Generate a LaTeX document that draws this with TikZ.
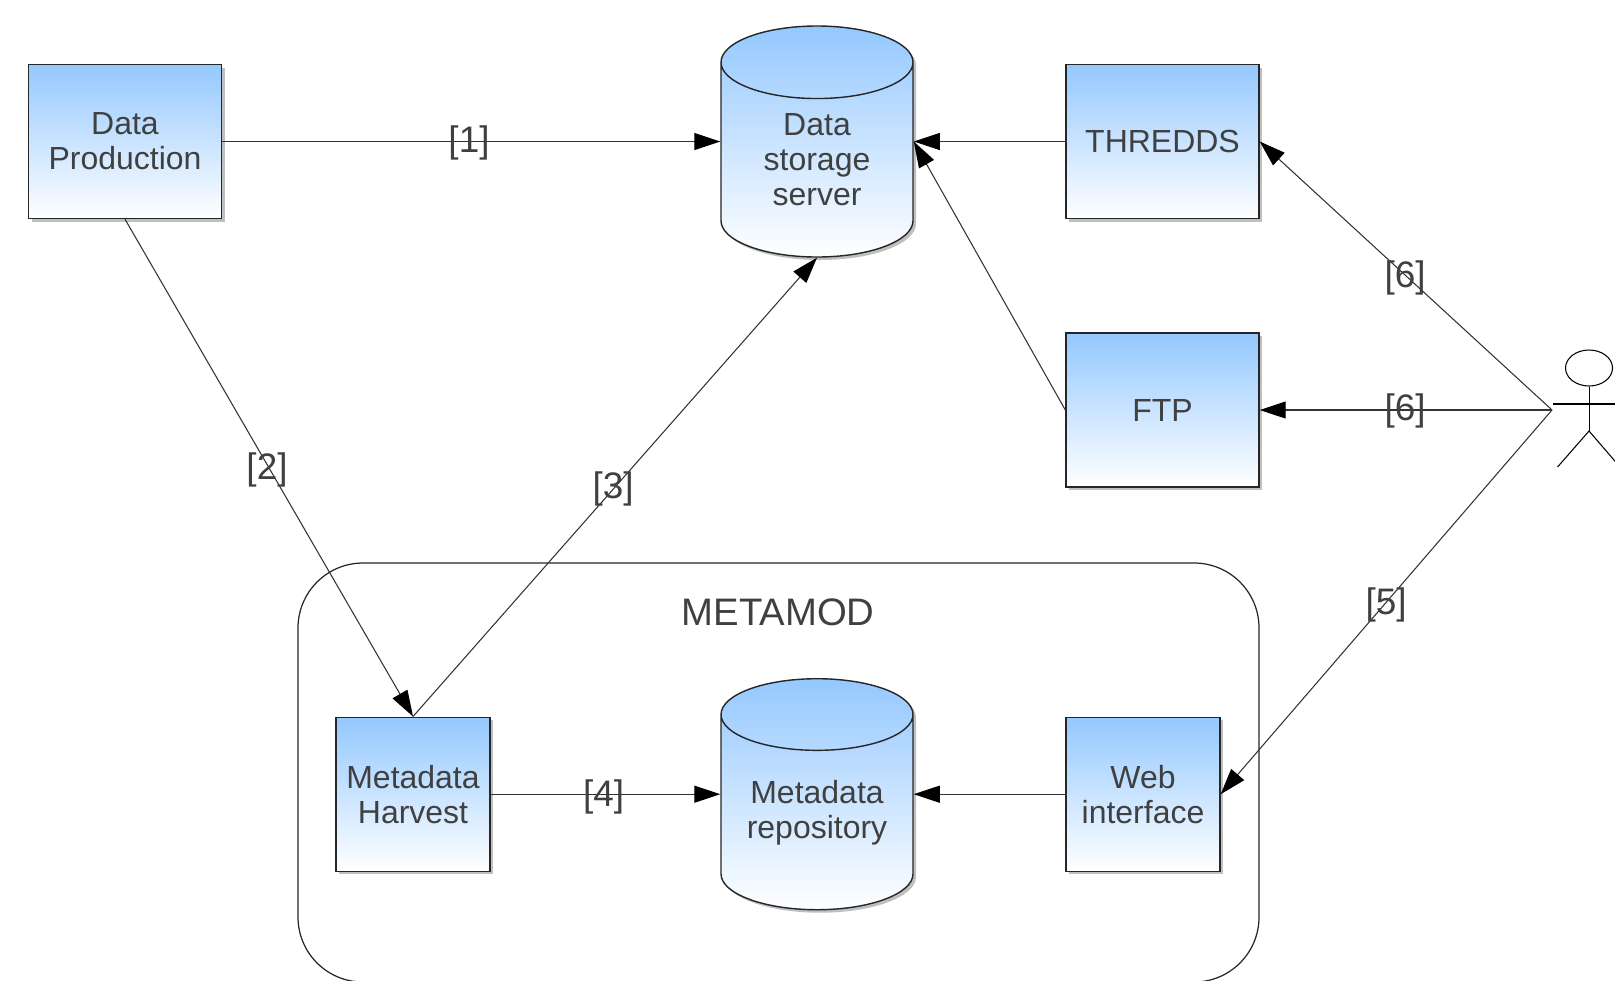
\documentclass[tikz,border=0pt]{standalone}
\usepackage{fontspec}
\setmainfont{Liberation Sans}
\usetikzlibrary{arrows.meta,shadows,shapes.geometric}
\definecolor{boxblue}{HTML}{94C8FF}
\definecolor{textgray}{HTML}{404040}
\tikzset{
  boxshade/.style={draw=black!85, line width=0.4pt, top color=boxblue, bottom color=white,
    general shadow={shadow xshift=0.03cm, shadow yshift=-0.03cm, fill=black!25}},
  bigbox/.style={boxshade, minimum width=1.93cm, minimum height=1.54cm, inner sep=0pt, align=center,
    font=\fontsize{9.1}{10}\selectfont, text=textgray},
  smallbox/.style={bigbox, minimum width=1.54cm},
  datastore/.style={boxshade, cylinder, shape border rotate=90, shape aspect=0.68, anchor=shape center,
    minimum width=1.92cm, minimum height=2.31cm, inner sep=0pt, align=center,
    font=\fontsize{9.1}{10}\selectfont, text=textgray},
  flow/.style={draw=black!80, line width=0.3pt, -{Triangle[length=0.26cm, width=0.17cm, color=black, fill=black]}},
  tag/.style={font=\fontsize{10.5}{12}\selectfont, text=textgray}
}
\begin{document}
\begin{tikzpicture}
\clip (0,0) rectangle (16.15,9.8);
% Container
\node[draw=black!85, line width=0.35pt, rounded corners=0.65cm, minimum width=9.61cm, minimum height=4.19cm] (metamodbox) at (7.785,2.075) {};
\node[font=\fontsize{10.9}{12}\selectfont, text=textgray] (metamodtitle) at (7.78,3.68) {METAMOD};
% Boxes
\node[bigbox] (dataprod) at (1.25,8.385) {Data\\Production};
\node[bigbox] (thredds) at (11.625,8.385) {THREDDS};
\node[bigbox] (ftp) at (11.625,5.70) {FTP};
\node[smallbox] (harvest) at (4.13,1.858) {Metadata\\Harvest};
\node[smallbox] (webui) at (11.43,1.858) {Web\\interface};
% Cylinders
\node[datastore] (server) at (8.17,8.385) {Data\\storage\\server};
\node[datastore, shape aspect=0.51] (repository) at (8.17,1.858) {Metadata\\repository};
% Actor
\node[draw=black, line width=0.3pt, ellipse, minimum width=0.47cm, minimum height=0.36cm, inner sep=0pt] (actorhead) at (15.89,6.12) {};
\coordinate (actorhip) at (15.89,5.49);
\coordinate (actor) at (15.52,5.70);
\draw[line width=0.3pt] (actorhead.south) -- (actorhip);
\draw[line width=0.3pt] (15.53,5.76) -- (16.25,5.76);
\draw[line width=0.3pt] (15.575,5.13) -- (actorhip) -- (16.2,5.13);
% Connectors
\draw[flow] (dataprod.east) -- (server.west |- dataprod.east);
\draw[flow] (thredds.west) -- (server.east |- thredds.west);
\draw[flow] (ftp.west) -- (server.east |- thredds.west);
\draw[flow] (dataprod.south) -- (harvest.north);
\draw[flow] (harvest.north) -- (server.south);
\draw[flow] (harvest.east) -- (repository.west |- harvest.east);
\draw[flow] (webui.west) -- (repository.east |- webui.west);
\draw[flow] (actor) -- (thredds.east);
\draw[flow] (actor) -- (ftp.east);
\draw[flow] (actor) -- (webui.east);
% Labels
\node[tag] (tagone) at (4.69,8.37) {[1]};
\node[tag] (tagtwo) at (2.67,5.10) {[2]};
\node[tag] (tagthree) at (6.13,4.91) {[3]};
\node[tag] (tagfour) at (6.035,1.83) {[4]};
\node[tag] (tagfive) at (13.86,3.75) {[5]};
\node[tag] (tagsixa) at (14.05,7.02) {[6]};
\node[tag] (tagsixb) at (14.05,5.69) {[6]};
\end{tikzpicture}
\end{document}
